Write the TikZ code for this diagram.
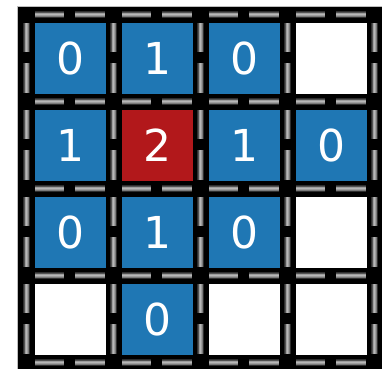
\documentclass[tikz,border=0pt]{standalone}
\usepackage{fontspec}
\setsansfont{DejaVu Sans}
\definecolor{CellBlue}{HTML}{1F77B4}
\definecolor{CellRed}{HTML}{B2181B}
\definecolor{CellBlank}{HTML}{FFFFFF}
\definecolor{BoardInk}{HTML}{000000}
\tikzset{
  every node/.style={font=\sffamily\fontsize{33}{33}\selectfont, text=white},
  cell/.style={inner sep=0pt, minimum size=53.25pt, fill=CellBlue},
  hotcell/.style={cell, fill=CellRed},
  blankcell/.style={cell, fill=CellBlank},
  board/.style={fill=BoardInk, draw=black!25!white, line width=0.75pt},
}
\begin{document}
\begin{tikzpicture}[x=0.75pt,y=-0.75pt]
  \useasboundingbox (0,0) rectangle (382,368);
  \fill[white] (0,0) rectangle (382,368);
  % Dark board behind the grid
  \draw[board] (17,6) rectangle (390,376);
  % Glowing dashed grid lines, two dashes per cell edge
  \foreach \lw/\shade in {7/black!82!white, 5.5/black!68!white, 4/black!52!white, 2.5/black!38!white, 1.2/black!28!white} {
    \foreach \k in {0,...,4} {
      \foreach \j in {0,...,3} {
        \draw[line width=\lw*0.75pt, draw=\shade]
          ({35+87*\j},{14.5+87*\k}) -- ({64+87*\j},{14.5+87*\k})
          ({75+87*\j},{14.5+87*\k}) -- ({105+87*\j},{14.5+87*\k});
        \draw[line width=\lw*0.75pt, draw=\shade]
          ({26.5+87*\k},{23+87*\j}) -- ({26.5+87*\k},{52+87*\j})
          ({26.5+87*\k},{63+87*\j}) -- ({26.5+87*\k},{93+87*\j});
      }
    }
  }
  % Row 1
  \node[cell] (c11) at (70.5,58.5) {0};
  \node[cell] (c12) at (157.5,58.5) {1};
  \node[cell] (c13) at (244.5,58.5) {0};
  \node[blankcell] (c14) at (331.5,58.5) {};
  % Row 2
  \node[cell] (c21) at (70.5,145.5) {1};
  \node[hotcell] (c22) at (157.5,145.5) {2};
  \node[cell] (c23) at (244.5,145.5) {1};
  \node[cell] (c24) at (331.5,145.5) {0};
  % Row 3
  \node[cell] (c31) at (70.5,232.5) {0};
  \node[cell] (c32) at (157.5,232.5) {1};
  \node[cell] (c33) at (244.5,232.5) {0};
  \node[blankcell] (c34) at (331.5,232.5) {};
  % Row 4
  \node[blankcell] (c41) at (70.5,319.5) {};
  \node[cell] (c42) at (157.5,319.5) {0};
  \node[blankcell] (c43) at (244.5,319.5) {};
  \node[blankcell] (c44) at (331.5,319.5) {};
\end{tikzpicture}
\end{document}
